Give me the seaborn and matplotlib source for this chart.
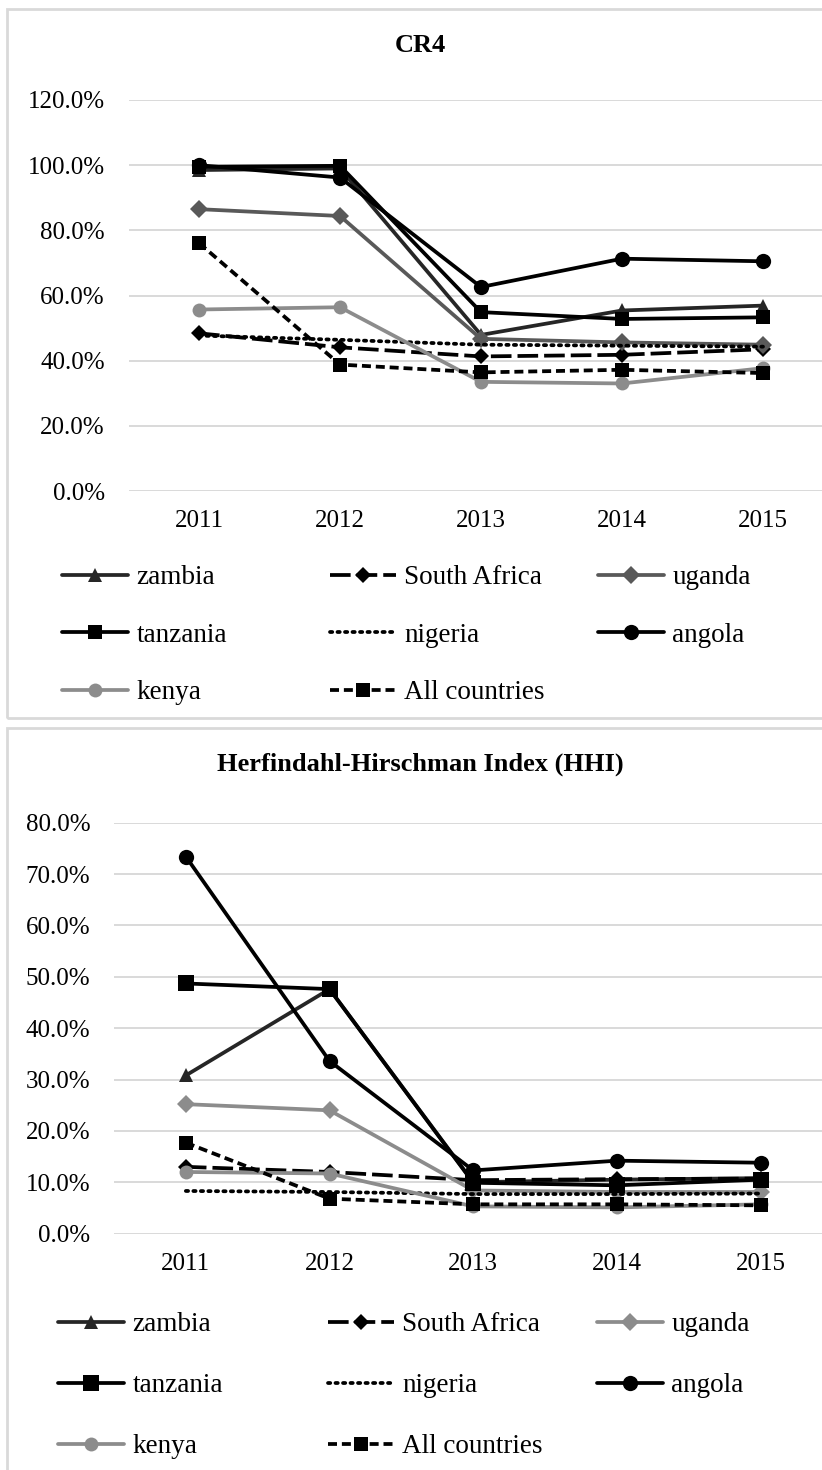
"""
CR4 / HHI 집중도 지표 — 국가별 추이 (2011-2015)
"""

import pandas as pd
import matplotlib.pyplot as plt
import matplotlib.patches as mpatches
from matplotlib.ticker import PercentFormatter, MultipleLocator
import seaborn as sns

# ── 데이터 ─────────────────────────────────────────────────────────────
YEARS = ["2011", "2012", "2013", "2014", "2015"]
COUNTRIES = ["zambia", "South Africa", "uganda", "tanzania",
             "nigeria", "angola", "kenya", "All countries"]

CR4_ZAMBIA = [0.985, 0.990, 0.479, 0.554, 0.569]
CR4_SOUTH_AFRICA = [0.484, 0.441, 0.413, 0.418, 0.435]
CR4_UGANDA = [0.865, 0.844, 0.467, 0.456, 0.449]
CR4_TANZANIA = [0.995, 0.998, 0.549, 0.528, 0.533]
CR4_NIGERIA = [0.477, 0.464, 0.449, 0.446, 0.443]
CR4_ANGOLA = [1.000, 0.962, 0.626, 0.713, 0.705]
CR4_KENYA = [0.557, 0.564, 0.335, 0.330, 0.377]
CR4_ALL = [0.761, 0.388, 0.364, 0.372, 0.362]

HHI_ZAMBIA = [0.308, 0.476, 0.100, 0.105, 0.108]
HHI_SOUTH_AFRICA = [0.130, 0.120, 0.104, 0.106, 0.107]
HHI_UGANDA = [0.252, 0.240, 0.084, 0.081, 0.081]
HHI_TANZANIA = [0.487, 0.476, 0.099, 0.094, 0.105]
HHI_NIGERIA = [0.083, 0.081, 0.077, 0.077, 0.078]
HHI_ANGOLA = [0.734, 0.336, 0.123, 0.142, 0.138]
HHI_KENYA = [0.120, 0.117, 0.053, 0.051, 0.057]
HHI_ALL = [0.177, 0.068, 0.057, 0.057, 0.055]

CR4_SERIES = [CR4_ZAMBIA, CR4_SOUTH_AFRICA, CR4_UGANDA, CR4_TANZANIA,
              CR4_NIGERIA, CR4_ANGOLA, CR4_KENYA, CR4_ALL]
HHI_SERIES = [HHI_ZAMBIA, HHI_SOUTH_AFRICA, HHI_UGANDA, HHI_TANZANIA,
              HHI_NIGERIA, HHI_ANGOLA, HHI_KENYA, HHI_ALL]

# ── 스타일 ─────────────────────────────────────────────────────────────
sns.set_theme(style="white")
plt.rcParams["font.family"] = ["Liberation Serif", "DejaVu Serif"]
plt.rcParams["text.color"] = "black"

W, H = 822, 1470
LONG_DASH = (0, (5.5, 1.6))
SHORT_DASH = (0, (2.4, 1.3))
DOT = (0, (0.6, 1.4))
GRID = "#d9d9d9"


def styles(panel):
    uganda_col = "#595959" if panel == "cr4" else "#8c8c8c"
    sq_big = 10 if panel == "cr4" else 12
    return {
        "zambia":        dict(color="#262626", ls="-", marker="^", ms=10),
        "South Africa":  dict(color="black", ls=LONG_DASH, marker="D", ms=8),
        "uganda":        dict(color=uganda_col, ls="-", marker="D", ms=9),
        "tanzania":      dict(color="black", ls="-", marker="s", ms=sq_big),
        "nigeria":       dict(color="black", ls=DOT, marker=None, ms=0),
        "angola":        dict(color="black", ls="-", marker="o", ms=11),
        "kenya":         dict(color="#8c8c8c", ls="-", marker="o", ms=10),
        "All countries": dict(color="black", ls=SHORT_DASH, marker="s", ms=10),
    }


def fx(px):
    return px / W


def fy(py):
    return 1 - py / H


def draw_panel(fig, series, panel, ax_box, ymax, title, title_y,
               leg_cols_x, leg_top_y, leg_spacing):
    ax = fig.add_axes(ax_box)
    st = styles(panel)
    df = pd.DataFrame({c: v for c, v in zip(COUNTRIES, series)}, index=YEARS)
    df = df.reset_index().melt(id_vars="index", var_name="country", value_name="v")

    handles = {}
    for c in COUNTRIES:
        s = st[c]
        sub = df[df["country"] == c]
        sns.lineplot(data=sub, x="index", y="v", ax=ax, color=s["color"],
                     linestyle=s["ls"], marker=s["marker"], markersize=s["ms"],
                     markeredgewidth=0, linewidth=2.7, label=c, legend=False,
                     dash_capstyle="round" if c == "nigeria" else "butt")
        handles[c] = ax.lines[-1]

    ax.set_xlim(-0.5, 4.5)
    ax.set_ylim(0, ymax)
    ax.yaxis.set_major_locator(MultipleLocator(0.2 if panel == "cr4" else 0.1))
    ax.yaxis.set_major_formatter(PercentFormatter(xmax=1, decimals=1))
    ax.grid(axis="y", color=GRID, linewidth=1.4)
    ax.set_axisbelow(True)
    for sp in ax.spines.values():
        sp.set_visible(False)
    ax.tick_params(axis="both", length=0, labelsize=18, colors="black")
    ax.tick_params(axis="y", pad=17)
    ax.tick_params(axis="x", pad=14)
    ax.set_xlabel("")
    ax.set_ylabel("")

    fig.text(fx(420), fy(title_y), title, ha="center", va="center",
             fontsize=19, fontweight="bold", color="black")

    # 범례: 3열 (행 우선 순서)
    columns = [["zambia", "tanzania", "kenya"],
               ["South Africa", "nigeria", "All countries"],
               ["uganda", "angola"]]
    for xpx, names in zip(leg_cols_x, columns):
        leg = fig.legend([handles[n] for n in names], names,
                         loc="upper left", bbox_to_anchor=(fx(xpx), fy(leg_top_y)),
                         frameon=False, fontsize=19.5, handlelength=2.45,
                         handletextpad=0.3, borderpad=0, borderaxespad=0,
                         labelspacing=leg_spacing, numpoints=1)
        for t in leg.get_texts():
            t.set_color("black")
    return ax


fig = plt.figure(figsize=(W / 100, H / 100), dpi=100)

# 외곽 테두리
fig.patches.append(mpatches.Rectangle((fx(7), fy(718)), fx(900), fy(9) - fy(718),
                                      transform=fig.transFigure, fill=False,
                                      edgecolor=GRID, linewidth=2))
fig.patches.append(mpatches.Rectangle((fx(7), fy(1500)), fx(900), fy(728) - fy(1500),
                                      transform=fig.transFigure, fill=False,
                                      edgecolor=GRID, linewidth=2))

draw_panel(fig, CR4_SERIES, "cr4",
           [fx(128.5), fy(491), fx(705), (491 - 100) / H], 1.2,
           "CR4", 45, [62, 330, 598], 565, 1.2)
draw_panel(fig, HHI_SERIES, "hhi",
           [fx(114), fy(1233.6), fx(718.5), (1233.6 - 822.7) / H], 0.8,
           "Herfindahl-Hirschman Index (HHI)", 764, [58, 328, 597], 1312, 1.33)

fig.savefig("out.png", dpi=100)
